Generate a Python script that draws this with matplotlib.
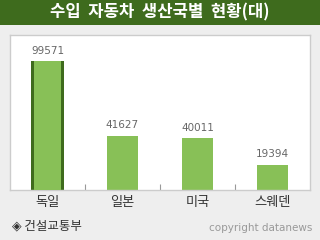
import matplotlib.pyplot as plt
from matplotlib.patches import Rectangle

plt.rcParams['font.family'] = ['Noto Sans CJK KR', 'DejaVu Sans']

# 데이터
countries = ['독일', '일본', '미국', '스웨덴']
counts = [99571, 41627, 40011, 19394]
title = '수입  자동차  생산국별  현황(대)'
source = '◈ 건설교통부'
credit = 'copyright datanews'

green = '#88c057'
dark = '#3e6b1d'

fig = plt.figure(figsize=(3.2, 2.4), dpi=100, facecolor='#eeeeee')

# 제목 띠
fig.patches.append(Rectangle((0, 1 - 25 / 240), 1, 25 / 240, transform=fig.transFigure,
                             facecolor=dark, edgecolor='none', zorder=0))
fig.text(0.5, 1 - 12.5 / 240, title, color='white', fontsize=12, fontweight='bold',
         ha='center', va='center')

ax = fig.add_axes([10 / 320, 50 / 240, 300 / 320, 155 / 240])
ax.set_facecolor('white')
x = list(range(len(countries)))

# 첫 막대는 테두리 강조
ax.bar(x[0], counts[0], width=0.44, color=dark, zorder=2)
ax.bar(x[0], counts[0], width=0.36, color=green, zorder=3)
ax.bar(x[1:], counts[1:], width=0.41, color=green, zorder=2)

for xi, v in zip(x, counts):
    ax.text(xi, v + 4500, str(v), ha='center', va='bottom', fontsize=7.5,
            color='#666666', family='DejaVu Sans')

ax.set_xlim(-0.5, 3.5)
ax.set_ylim(0, 120000)
ax.set_yticks([])
ax.set_xticks(x)
ax.set_xticklabels(countries, fontsize=9.5, color='#333333')
ax.tick_params(axis='x', which='major', length=0, pad=4)
ax.set_xticks([0.5, 1.5, 2.5], minor=True)
ax.tick_params(axis='x', which='minor', direction='in', length=4, color='#999999', width=0.8)
for s in ax.spines.values():
    s.set_color('#cccccc')
    s.set_linewidth(1)

fig.text(12 / 320, 1 - 226 / 240, source, fontsize=9, color='#333333', ha='left', va='center')
fig.text(312 / 320, 1 - 228 / 240, credit, fontsize=7.5, color='#999999', ha='right', va='center',
         family='DejaVu Sans')

fig.savefig('out.png', dpi=100, facecolor=fig.get_facecolor())
